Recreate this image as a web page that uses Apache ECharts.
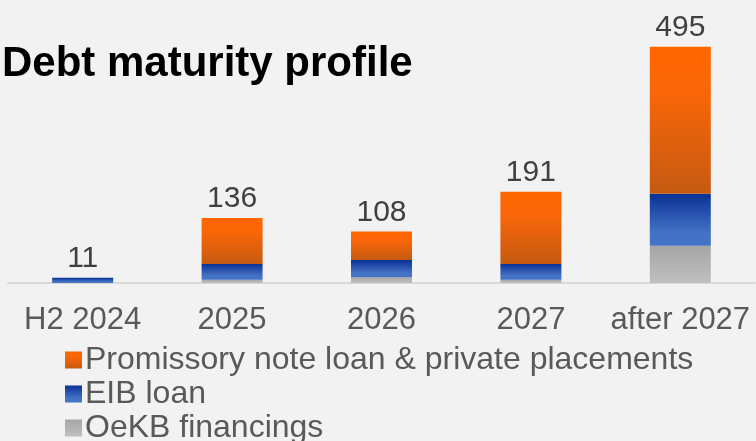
<!DOCTYPE html>
<html>
<head>
<meta charset="utf-8">
<script src="https://cdn.jsdelivr.net/npm/echarts@6/dist/echarts.min.js"></script>
<style>
html,body{margin:0;padding:0;background:#F2F2F2;}
#c{width:756px;height:441px;}
</style>
</head>
<body>
<div id="c"></div>
<script>
const categories = ['H2 2024', '2025', '2026', '2027', 'after 2027'];
const oekb = [0, 7, 12, 7, 78];
const eib = [11, 33, 36, 33, 109];
const promissory = [0, 96, 60, 151, 308];
const totals = [11, 136, 108, 191, 495];
const seriesNames = ['Promissory note loan & private placements', 'EIB loan', 'OeKB financings'];

function grad(stops) {
  return new echarts.graphic.LinearGradient(0, 0, 0, 1, stops.map(s => ({offset: s[0], color: s[1]})));
}
const orangeGrad = grad([[0, '#FF6600'], [0.3, '#FA6608'], [1, '#C55A11']]);
const blueGrad = grad([[0, '#0A3196'], [0.75, '#4472C4'], [1, '#4472C4']]);
const grayGrad = grad([[0, '#A6A6A6'], [1, '#BFBFBF']]);

const chart = echarts.init(document.getElementById('c'), null, {renderer: 'canvas'});
const fontFamily = 'Liberation Sans, Arial, sans-serif';
chart.setOption({
  backgroundColor: '#F2F2F2',
  animation: false,
  title: {
    text: 'Debt maturity profile',
    left: -3,
    top: 38,
    textStyle: {fontFamily: fontFamily, fontSize: 42, fontWeight: 'bold', color: '#000000'}
  },
  legend: {
    orient: 'vertical',
    left: 60,
    top: 338,
    height: 200,
    itemGap: 0,
    itemWidth: 17,
    itemHeight: 17,
    icon: 'rect',
    data: [seriesNames[0], seriesNames[1], seriesNames[2]],
    textStyle: {fontFamily: fontFamily, fontSize: 32, lineHeight: 34, color: '#595959', padding: [0, 0, 0, -2]}
  },
  grid: {left: 8, right: 1, top: 0, height: 283, containLabel: false},
  xAxis: {
    type: 'category',
    data: categories,
    axisLine: {lineStyle: {color: '#D9D9D9', width: 2}},
    axisTick: {show: false},
    axisLabel: {interval: 0, fontFamily: fontFamily, fontSize: 31, color: '#595959', margin: 22}
  },
  yAxis: {
    type: 'value',
    min: 0,
    max: 593,
    show: false,
    splitLine: {show: false}
  },
  series: [
    {name: seriesNames[2], type: 'bar', stack: 'a', barWidth: 61, data: oekb, itemStyle: {color: grayGrad}},
    {name: seriesNames[1], type: 'bar', stack: 'a', data: eib, itemStyle: {color: blueGrad}},
    {name: seriesNames[0], type: 'bar', stack: 'a', data: promissory, itemStyle: {color: orangeGrad}},
    {name: 'total', type: 'bar', stack: 'a', data: totals.map(() => 0),
      itemStyle: {color: 'rgba(0,0,0,0)'},
      label: {show: true, position: 'top', distance: 4, fontFamily: fontFamily, fontSize: 30, color: '#404040',
        formatter: p => String(totals[p.dataIndex])}}
  ]
});
</script>
</body>
</html>
